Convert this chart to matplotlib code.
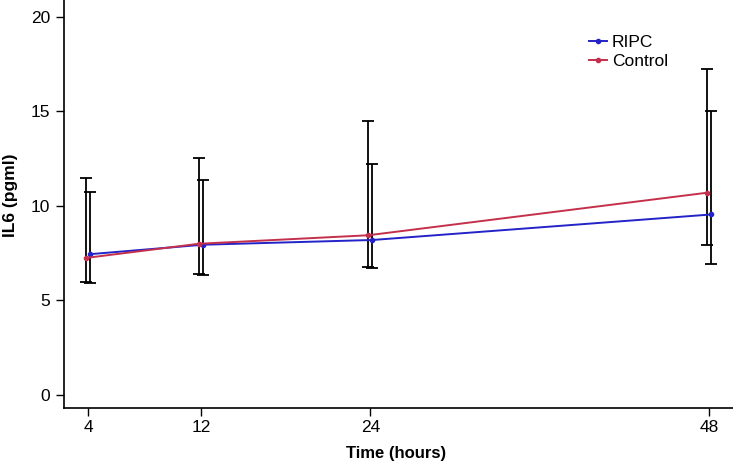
import matplotlib.pyplot as plt

plt.rcParams['font.family'] = ['Liberation Sans', 'DejaVu Sans']

# data
hours = [4, 12, 24, 48]
ripc_mean = [7.45, 7.95, 8.2, 9.55]
ripc_low = [5.95, 6.35, 6.7, 6.95]
ripc_high = [10.75, 11.4, 12.2, 15.0]
control_mean = [7.25, 8.0, 8.45, 10.7]
control_low = [6.0, 6.4, 6.75, 7.95]
control_high = [11.5, 12.55, 14.5, 17.25]

offset = 0.15

fig = plt.figure(figsize=(7.33, 4.65), dpi=100)
ax = fig.add_axes([0.0873, 0.1226, 0.9127, 0.8774])

# error bars (black), slightly dodged
ctrl_x = [h - offset for h in hours]
ripc_x = [h + offset for h in hours]
ax.errorbar(ctrl_x, control_mean,
            yerr=[[m - l for m, l in zip(control_mean, control_low)],
                  [h - m for m, h in zip(control_mean, control_high)]],
            fmt='none', ecolor='black', elinewidth=1.3, capsize=4, capthick=1.3, zorder=2)
ax.errorbar(ripc_x, ripc_mean,
            yerr=[[m - l for m, l in zip(ripc_mean, ripc_low)],
                  [h - m for m, h in zip(ripc_mean, ripc_high)]],
            fmt='none', ecolor='black', elinewidth=1.3, capsize=4, capthick=1.3, zorder=2)

ax.plot(ripc_x, ripc_mean, color='#2323c8', marker='o', markersize=3, lw=1.4, label='RIPC', zorder=3)
ax.plot(ctrl_x, control_mean, color='#c4304c', marker='o', markersize=3, lw=1.4, label='Control', zorder=3)

ax.set_xlim(2.3, 49.7)
ax.set_ylim(-0.69, 20.9)
ax.set_xticks(hours)
ax.set_yticks([0, 5, 10, 15, 20])
ax.tick_params(direction='out', length=6, width=1, labelsize=12.5, pad=4)
ax.tick_params(axis='x', pad=2.5)

for s in ['top', 'right']:
    ax.spines[s].set_visible(False)
ax.spines['left'].set_linewidth(1.2)
ax.spines['bottom'].set_linewidth(1.2)

# axis titles placed in figure pixels-ish
fig.text(396 / 733, 1 - 453 / 465, 'Time (hours)', fontsize=12, fontweight='bold',
         ha='center', va='center')
fig.text(11 / 733, 1 - 195 / 465, 'IL6 (pgml)', fontsize=12.5, fontweight='bold',
         ha='center', va='center', rotation=90)

ax.legend(loc='upper left', bbox_to_anchor=(0.762, 0.953), frameon=False, fontsize=12.5,
          handlelength=1.0, handletextpad=0.3, labelspacing=0.25)

fig.savefig('out.png', dpi=100)
